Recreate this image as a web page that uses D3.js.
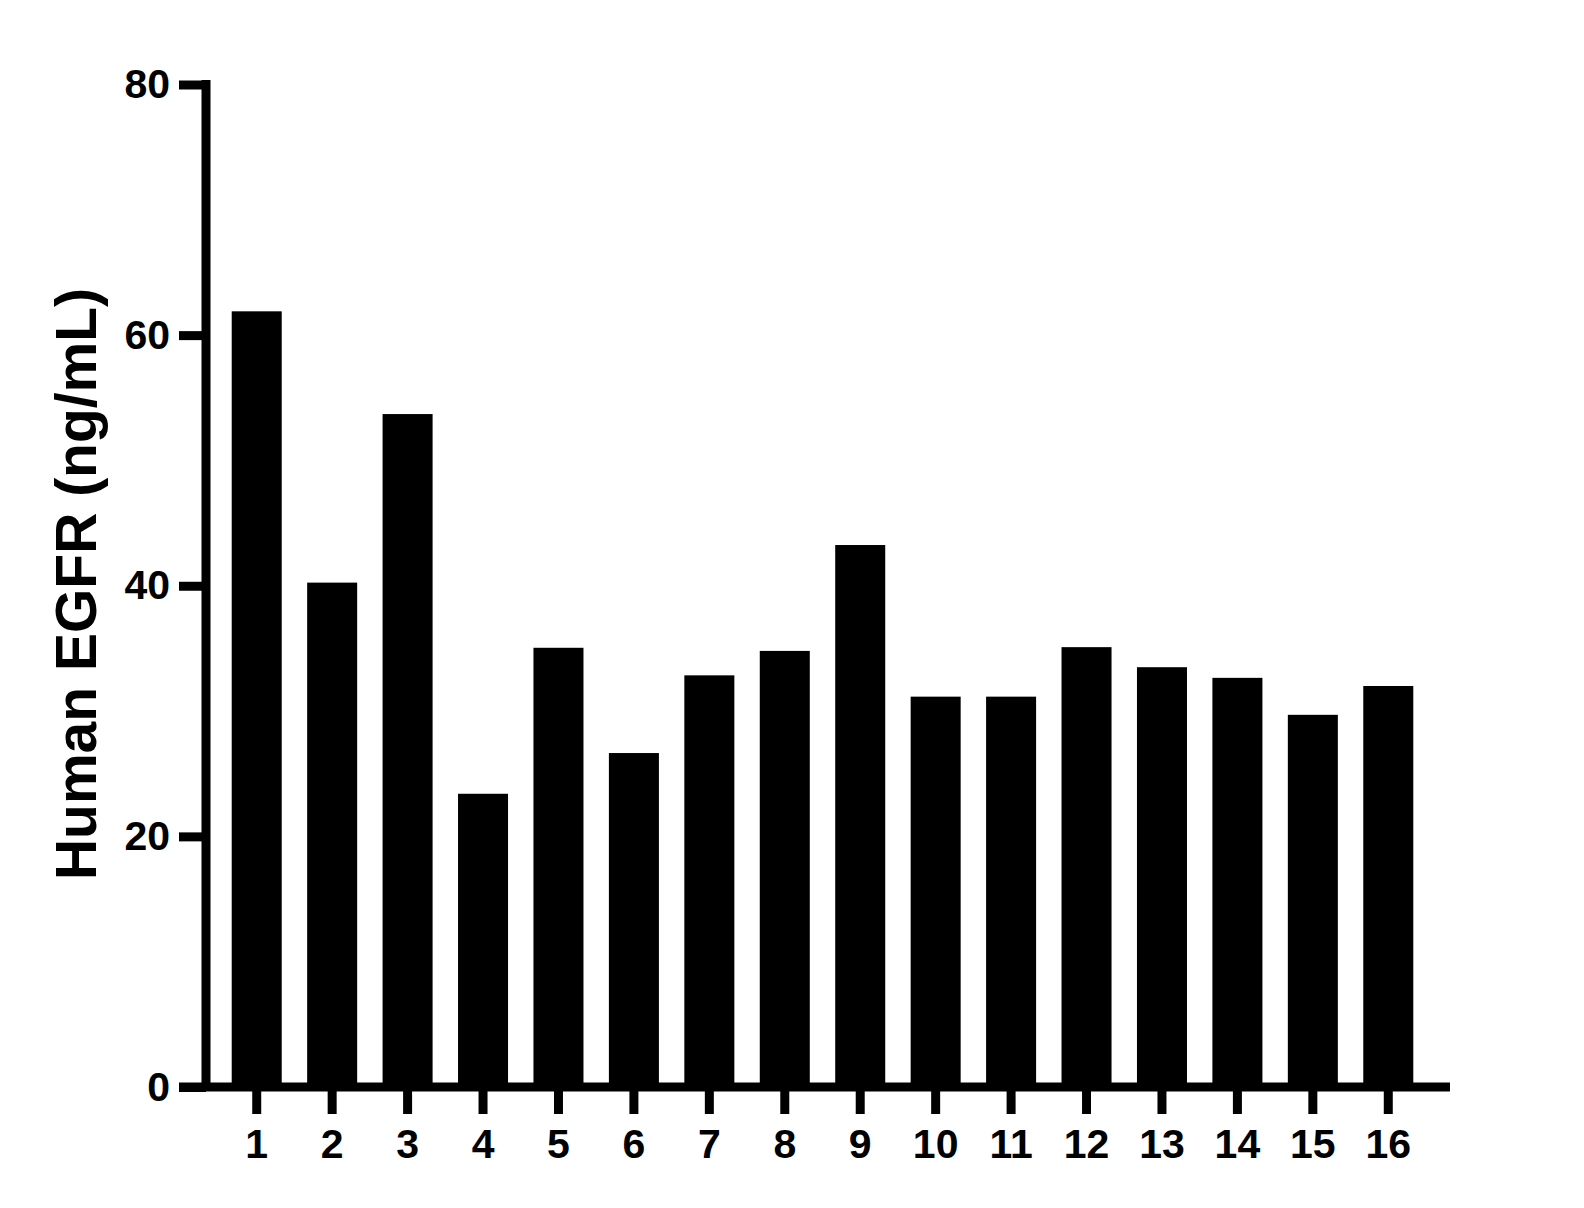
<!DOCTYPE html>
<html>
<head>
<meta charset="utf-8">
<script src="https://cdn.jsdelivr.net/npm/d3@7"></script>
<style>
  body { margin: 0; background: #fff; }
  svg text { font-family: "Liberation Sans", Arial, sans-serif; font-weight: bold; fill: #000; }
</style>
</head>
<body>
<svg id="chart" width="1584" height="1208"></svg>
<script>
// sample ids and measured EGFR (ng/mL)
var samples = ['1','2','3','4','5','6','7','8','9','10','11','12','13','14','15','16'];
var egfr = [61.9, 40.25, 53.7, 23.4, 35.05, 26.65, 32.85, 34.8, 43.25, 31.15, 31.15, 35.1, 33.5, 32.65, 29.7, 32.0];
var yTicks = [0, 20, 40, 60, 80];
var yTitle = 'Human EGFR (ng/mL)';

var data = samples.map(function(s, i) { return {label: s, value: egfr[i]}; });

var svg = d3.select('#chart');

var y = d3.scaleLinear().domain([0, 80]).range([1087, 84.5]);
var x = d3.scaleBand()
  .domain(samples)
  .range([219, 1426])
  .paddingInner(0.337)
  .paddingOuter(0.1685);

var axisX0 = 206;

// bars
svg.append('g')
  .selectAll('rect.bar')
  .data(data)
  .enter()
    .append('rect')
    .classed('bar', true)
    .attr('x', function(d) { return x(d.label); })
    .attr('y', function(d) { return y(d.value); })
    .attr('width', x.bandwidth())
    .attr('height', function(d) { return y(0) - y(d.value); })
    .attr('fill', '#000');

// y axis
var yAxis = svg.append('g')
  .attr('transform', 'translate(' + axisX0 + ',0)')
  .call(d3.axisLeft(y).tickValues(yTicks).tickSize(27).tickSizeOuter(0).tickPadding(9));
yAxis.select('.domain').remove();
yAxis.selectAll('.tick line').attr('stroke', '#000').attr('stroke-width', 9);
yAxis.selectAll('.tick text').style('font-size', '41px');

svg.append('line')
  .attr('x1', axisX0).attr('x2', axisX0)
  .attr('y1', y(80) - 4.5).attr('y2', y(0))
  .attr('stroke', '#000').attr('stroke-width', 9);

// x axis
var xAxis = svg.append('g')
  .attr('transform', 'translate(0,' + y(0) + ')')
  .call(d3.axisBottom(x).tickSize(27).tickSizeOuter(0).tickPadding(15));
xAxis.select('.domain').remove();
xAxis.selectAll('.tick line').attr('stroke', '#000').attr('stroke-width', 9);
xAxis.selectAll('.tick text').style('font-size', '41px');

svg.append('line')
  .attr('x1', 179).attr('x2', 1450)
  .attr('y1', y(0)).attr('y2', y(0))
  .attr('stroke', '#000').attr('stroke-width', 9);

// y title
svg.append('text')
  .attr('transform', 'translate(96,584) rotate(-90)')
  .attr('text-anchor', 'middle')
  .style('font-size', '57px')
  .text(yTitle);
</script>
</body>
</html>
